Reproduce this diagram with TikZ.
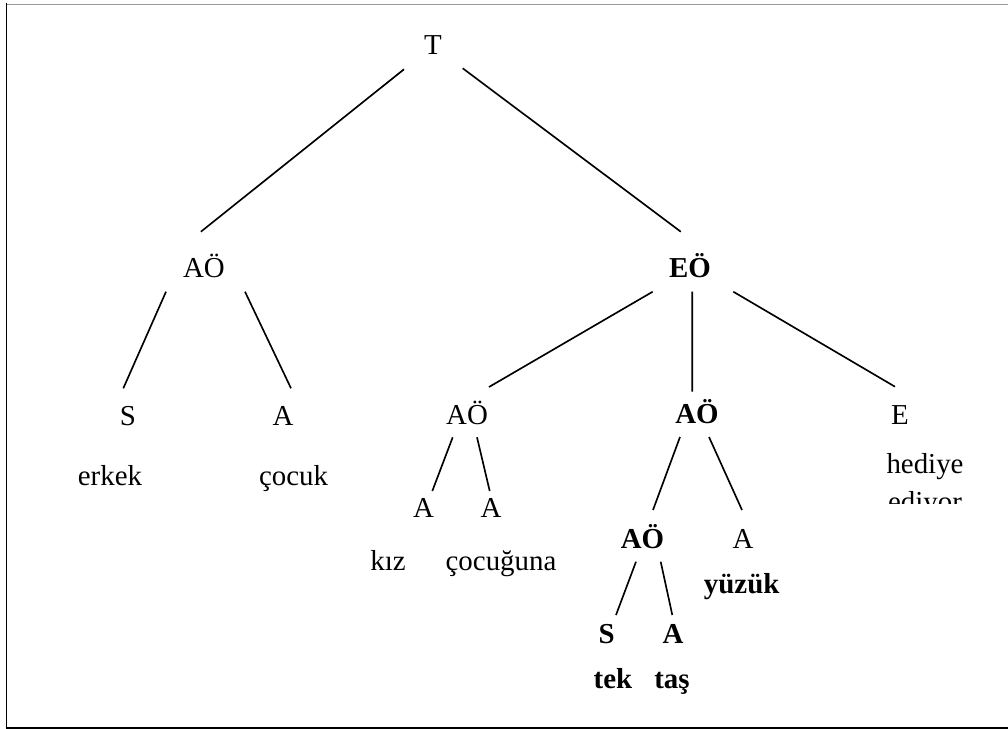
\documentclass[tikz,border=0pt]{standalone}
\usepackage{fontspec}
\setmainfont{Liberation Serif}
\begin{document}
\begin{tikzpicture}[x=1bp,y=-1bp,
  lbl/.style={inner sep=0pt, anchor=base, font=\fontsize{29}{34}\selectfont},
  blbl/.style={inner sep=0pt, anchor=base, font=\fontsize{29}{34}\selectfont\bfseries},
  edge/.style={line width=1.65bp},
  frame/.style={line width=1.8bp, black},
  topframe/.style={line width=1bp, black!40}]
\useasboundingbox (0,0) rectangle (1008,729);
% frame
\draw[topframe] (6,4.5) -- (1008,4.5);
\draw[frame] (6.5,3) -- (6.5,728.6);
\draw[frame] (5.6,727.7) -- (1008,727.7);
% nodes
\node[lbl]  (T)    at (433,55)    {T};
\node[lbl]  (AOL)  at (204,277)   {AÖ};
\node[blbl] (EO)   at (690,277)   {EÖ};
\node[lbl]  (S1)   at (128,425)   {S};
\node[lbl]  (A1)   at (283,425)   {A};
\node[lbl]  (erkek) at (110,485)  {erkek};
\node[lbl]  (cocuk) at (293.5,485) {çocuk};
\node[lbl]  (AOM)  at (467,424)   {AÖ};
\node[blbl] (AOB)  at (697,423)   {AÖ};
\node[lbl]  (E)    at (900,424)   {E};
\begin{scope}
  \clip (840,440) rectangle (1000,503.5);
  \node[lbl] (hediye) at (925,473) {hediye};
  \node[lbl] (ediyor) at (925,511) {ediyor};
\end{scope}
\node[lbl]  (A2)   at (423.5,517) {A};
\node[lbl]  (A3)   at (491,517)   {A};
\node[lbl]  (kiz)  at (388,570)   {kız};
\node[lbl]  (cocuguna) at (501,570) {çocuğuna};
\node[blbl] (AOB2) at (642.5,548) {AÖ};
\node[lbl]  (A4)   at (743,548)   {A};
\node[blbl] (yuzuk) at (741.7,593) {yüzük};
\node[blbl] (S2)   at (606.7,643) {S};
\node[blbl] (A5)   at (673,643)   {A};
\node[blbl] (tek)  at (613,688)   {tek};
\node[blbl] (tas)  at (672,688)   {taş};
% connectors
\draw[edge] ([shift={(-29,14.3)}]T.base) -- ([shift={(-3.1,-45.3)}]AOL.base);
\draw[edge] ([shift={(29.7,13.3)}]T.base) -- ([shift={(-9.2,-45.3)}]EO.base);
\draw[edge] ([shift={(-38,14.7)}]AOL.base) -- ([shift={(-4.7,-36.7)}]S1.base);
\draw[edge] ([shift={(41,14.7)}]AOL.base) -- ([shift={(8,-36.7)}]A1.base);
\draw[edge] ([shift={(-37.3,14.7)}]EO.base) -- ([shift={(22,-37)}]AOM.base);
\draw[edge] ([shift={(2.3,14.7)}]EO.base) -- ([shift={(-4.7,-31.3)}]AOB.base);
\draw[edge] ([shift={(43.3,14.7)}]EO.base) -- ([shift={(-5,-37.3)}]E.base);
\draw[edge] ([shift={(-14.3,13.3)}]AOM.base) -- ([shift={(8.8,-26)}]A2.base);
\draw[edge] ([shift={(10,13.3)}]AOM.base) -- ([shift={(-1.3,-26)}]A3.base);
\draw[edge] ([shift={(-17,14)}]AOB.base) -- ([shift={(10.5,-38)}]AOB2.base);
\draw[edge] ([shift={(12,14)}]AOB.base) -- ([shift={(-1,-38)}]A4.base);
\draw[edge] ([shift={(-6.5,13.7)}]AOB2.base) -- ([shift={(9.3,-28)}]S2.base);
\draw[edge] ([shift={(18.2,13.7)}]AOB2.base) -- ([shift={(-0.7,-28)}]A5.base);
\end{tikzpicture}
\end{document}
